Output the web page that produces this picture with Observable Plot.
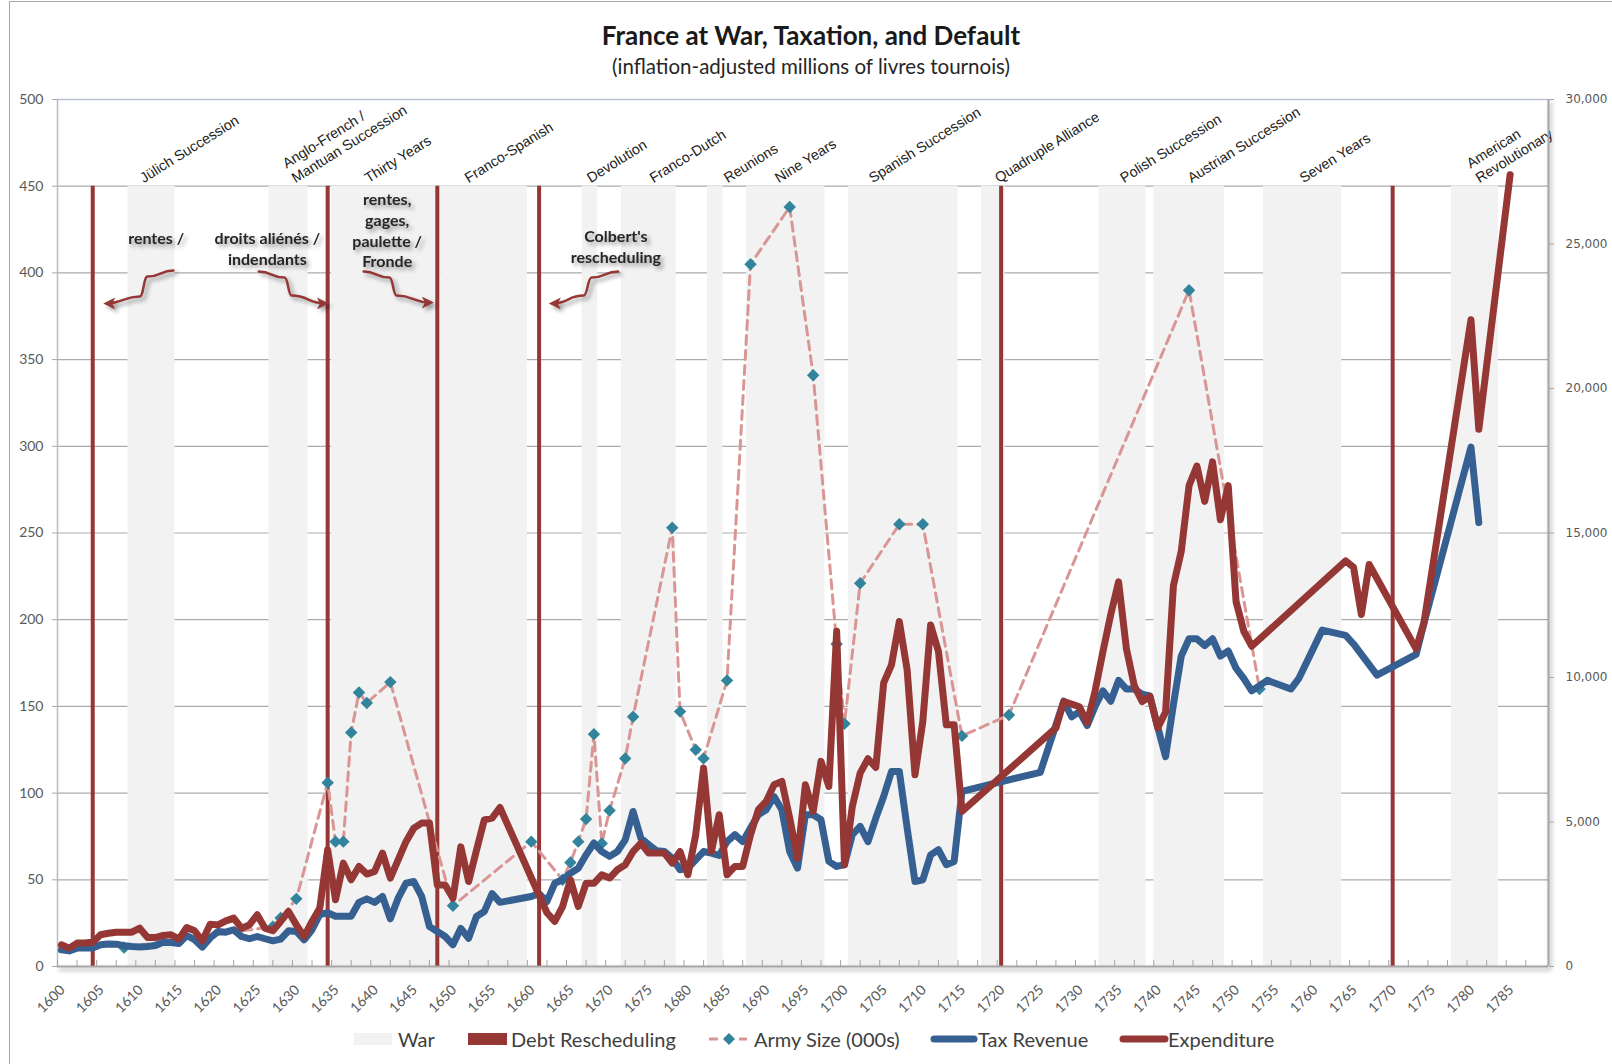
<!DOCTYPE html>
<html>
<head>
<meta charset="utf-8">
<script src="https://cdn.jsdelivr.net/npm/d3@7"></script>
<script src="https://cdn.jsdelivr.net/npm/@observablehq/plot@0.6"></script>
<style>
  html, body { margin: 0; padding: 0; background: #fff; }
  body { width: 1612px; height: 1064px; overflow: hidden; position: relative; font-family: Lato, "Open Sans", sans-serif; }
  #frame { position: absolute; left: 9px; top: 1px; width: 1640px; height: 1100px; border: 1px solid #a6a6a6; pointer-events: none; }
  #title { position: absolute; left: 811px; top: 19px; transform: translateX(-50%); white-space: nowrap; font-weight: 700; font-size: 26px; line-height: 32px; color: #1a1a1a; }
  #subtitle { position: absolute; left: 811px; top: 53px; transform: translateX(-50%); white-space: nowrap; font-size: 20.5px; line-height: 26px; color: #262626; }
  #chart { position: absolute; left: 0; top: 90px; }
  #legend { position: absolute; left: 0; top: 1020px; width: 1612px; height: 44px; }
  .sw { position: absolute; top: 0; }
  .lt { position: absolute; top: 7px; font-size: 20px; color: #404040; white-space: nowrap; line-height: 24px; }
</style>
</head>
<body>
<div id="frame"></div>
<div id="title">France at War, Taxation, and Default</div>
<div id="subtitle">(inflation-adjusted millions of livres tournois)</div>
<div id="chart"></div>
<div id="legend">
  <svg class="sw" style="left:354px" width="40" height="44"><rect x="0" y="13" width="38" height="12" fill="#f2f2f2"/></svg>
  <span class="lt" style="left:398px">War</span>
  <svg class="sw" style="left:468px" width="42" height="44"><rect x="0" y="13" width="39" height="12" fill="#953735"/></svg>
  <span class="lt" style="left:511px">Debt Rescheduling</span>
  <svg class="sw" style="left:708px" width="42" height="44"><line x1="1" y1="19" x2="39" y2="19" stroke="#d99694" stroke-width="3" stroke-dasharray="9,6"/><path d="M21,13 L27,19 L21,25 L15,19 Z" fill="#31849b"/></svg>
  <span class="lt" style="left:754px">Army Size (000s)</span>
  <svg class="sw" style="left:930px" width="50" height="44"><line x1="4" y1="19" x2="44" y2="19" stroke="#376092" stroke-width="7" stroke-linecap="round"/></svg>
  <span class="lt" style="left:978px">Tax Revenue</span>
  <svg class="sw" style="left:1119px" width="50" height="44"><line x1="4" y1="19" x2="46" y2="19" stroke="#953735" stroke-width="7" stroke-linecap="round"/></svg>
  <span class="lt" style="left:1168px">Expenditure</span>
</div>
<script>
// ---------------- DATA ----------------
const taxYears = [1600,1601,1602,1603,1604,1605,1606,1607,1608,1609,1610,1611,1612,1613,1614,1615,1616,1617,1618,1619,
  1620,1621,1622,1623,1624,1625,1626,1627,1628,1629,1630,1631,1632,1633,1634,1635,1636,1637,1638,1639,
  1640,1641,1642,1643,1644,1645,1646,1647,1648,1649,1650,1651,1652,1653,1654,1655,1656,1660,1661,1662,
  1663,1664,1665,1666,1667,1668,1669,1670,1671,1672,1673,1674,1675,1676,1677,1678,1679,1680,1681,1682,
  1683,1684,1685,1686,1687,1688,1689,1690,1691,1692,1693,1694,1695,1696,1697,1698,1699,1700,1701,1702,
  1703,1704,1705,1706,1707,1708,1709,1710,1711,1712,1713,1714,1715,1725,1728,1729,1730,1731,1732,1733,
  1734,1735,1736,1737,1738,1739,1740,1741,1742,1743,1744,1745,1746,1747,1748,1749,1750,1751,1752,1753,
  1754,1757,1758,1761,1764,1765,1768,1773,1774,1780,1781];
const taxValues = [9.6,9.0,10.6,10.6,10.6,12.5,13,12.9,12,11.5,11.3,11.5,12.1,14,13.8,13.3,17.9,15.4,11.2,16.5,
  20.2,19.8,21.2,17.3,16,17.3,16,14.8,15.8,20.6,20.2,15.4,21.2,30,31,29,29,29,37,39,
  37,40.4,27.5,39.4,48,49,40.4,23,20.2,17.3,12.5,22,16.3,28.8,31.7,42,37,40.4,42,37.5,
  48,50,53.8,56.7,64.4,71.2,66.3,63.5,66.3,73,89.4,74,70.2,66.7,66.3,62.5,55.8,56.7,61.5,66.3,
  65.4,64,72,76,72,79.8,87.5,90.4,98,90.4,66.3,56.7,87.5,87.5,84.6,60.6,57.7,58.7,76,80.8,
  72,85.6,98,112.5,112.5,79.8,49,50,64.4,67.3,58.7,60.6,101,112,153,144,147,139,150,159,
  153,165,160,160,157,156,138,121,151,179,189,189,185,189,179,182,172,166,159,162,
  165,160,166,194,191,186,168,180,198,299.5,256];

const expYears = [1600,1601,1602,1603,1604,1605,1606,1607,1608,1609,1610,1611,1612,1613,1614,1615,1616,1617,1618,1619,
  1620,1621,1622,1623,1624,1625,1626,1627,1628,1629,1630,1631,1632,1633,1634,1635,1636,1637,1638,1639,
  1640,1641,1642,1643,1644,1645,1646,1647,1648,1649,1650,1651,1652,1653,1654,1655,1656,1662,1663,1664,
  1665,1666,1667,1668,1669,1670,1671,1672,1673,1674,1675,1676,1677,1678,1679,1680,1681,1682,1683,1684,
  1685,1686,1687,1688,1689,1690,1691,1692,1693,1694,1695,1696,1697,1698,1699,1700,1701,1702,1703,1704,
  1705,1706,1707,1708,1709,1710,1711,1712,1713,1714,1715,1727,1728,1729,1730,1731,1732,1733,1734,1735,
  1736,1737,1738,1739,1740,1741,1742,1743,1744,1745,1746,1747,1748,1749,1750,1751,1752,1764,1765,1766,
  1767,1773,1774,1780,1781,1785];
const expValues = [12.5,10.6,13.5,13.5,14,18.3,19.2,19.8,19.8,19.8,22.1,16.7,16.7,17.9,18.3,15.8,22.5,20.6,14.8,24.4,
  24,26.3,27.9,22.1,24,29.8,22.1,20.6,26,31.7,24,17.3,26,33.7,67.3,38.5,59.6,50,57.7,53.3,
  54.8,65.4,51,61.5,72,79.8,82.7,82.7,47,47,39.4,69,49,67,84.6,85.6,91.7,31,26,34.6,
  50,34.6,48,48,52.9,51,55.8,58.7,66.3,71.2,65.4,65.4,65.4,59.6,66.3,52.9,76,114.4,66.3,87.5,
  52.9,57.7,57.7,76,90.4,95.2,104.8,106.7,85.6,62.5,104.8,89.4,118.3,103.8,193.3,58.7,92.3,111.5,119.8,114.8,
  163.5,174,199,171,110.6,141.3,197,181.7,139.4,139.4,89.4,137.6,152.8,151.3,149.8,140.6,158.9,181.6,203,221.8,
  183.2,162,152.8,155.8,137.6,146.7,219.6,239.4,277.3,288.6,268.2,291,257.6,277.3,210.5,193.2,184.7,233.9,230.3,203,
  231.8,183.2,198.4,373,309.8,456.6];

const armyYears = [1608,1627,1628,1630,1634,1635,1636,1637,1638,1639,1642,1650,1660,1664,1665,1666,1667,1668,1669,1670,
  1672,1673,1678,1679,1681,1682,1685,1688,1693,1696,1699,1700,1702,1707,1710,1715,1721,1744,1753];
const armyValues = [11,23,28,39,106,72,72,135,158,152,164,35,72,50,60,72,85,134,71,90,
  120,144,253,147,125,120,165,405,438,341,186,140,221,255,255,133,145,390,160];

const reschedYears = [1604,1634,1648,1661,1720,1770];
const bandTop = 450;

const wars = ["Jülich Succession","Anglo-French /\nMantuan Succession","Thirty Years","Franco-Spanish","Devolution",
  "Franco-Dutch","Reunions","Nine Years","Spanish Succession","Quadruple Alliance","Polish Succession",
  "Austrian Succession","Seven Years","American\nRevolutionary"];
const warStart = [1609,1627,1635,1649,1667,1672,1683,1688,1701,1718,1733,1740,1754,1778];
const warEnd   = [1614,1631,1648,1659,1668,1678,1684,1697,1714,1720,1738,1748,1763,1783];
const warLabelYear = [1611.0,1630.4,1639.7,1652.5,1668.1,1676.1,1685.6,1692.1,1704.1,1720.2,1736.2,1744.8,1759.1,1781.6];

const annotLabels = ["rentes /","droits aliénés /\nindendants","rentes,\ngages,\npaulette /\nFronde","Colbert's\nrescheduling"];
const annotYear  = [1612.6,1626.8,1642.1,1671.3];
const annotValue = [420.5,414.5,425,415.5];
// callout arrow waypoints (year, value), one list per callout
const arrowYears  = [[1614.8,1611.5,1610.5,1606.3],[1625.7,1629.0,1629.9,1634.2],[1639.1,1642.4,1643.3,1647.6],[1671.6,1668.2,1667.2,1663.2]];
const arrowValues = [[401.4,397.9,386.4,382.4],[400.8,397.3,386.9,382.4],[400.8,397.3,386.9,382.9],[400.8,397.3,386.9,382.4]];

const leftTicks = [0,50,100,150,200,250,300,350,400,450,500];
const rightTicks = [0,5000,10000,15000,20000,25000,30000];
const rightPerLeft = 60;
const xTicks = [1600,1605,1610,1615,1620,1625,1630,1635,1640,1645,1650,1655,1660,1665,1670,1675,1680,1685,1690,1695,
  1700,1705,1710,1715,1720,1725,1730,1735,1740,1745,1750,1755,1760,1765,1770,1775,1780,1785];

// ---------------- TABLES ----------------
const tax = taxYears.map((year, i) => ({year, value: taxValues[i]}));
const exp = expYears.map((year, i) => ({year, value: expValues[i]}));
const army = armyYears.map((year, i) => ({year, value: armyValues[i]}));
const resched = reschedYears.map(year => ({year}));
const warTable = wars.map((name, i) => ({name, start: warStart[i], end: warEnd[i], labelYear: warLabelYear[i]}));
const annots = annotLabels.map((label, i) => ({label, year: annotYear[i], value: annotValue[i]}));
const arrows = arrowYears.flatMap((ys, i) => ys.map((year, j) => ({id: i, year, value: arrowValues[i][j]})));
const minorTicks = xTicks.flatMap(t => [t, t + 2.5]);
const mid = d => d.year + 0.5;   // category centre

const RED = "#953735", BLUE = "#376092";
const fmt = d3.format(",");

const plot = Plot.plot({
  width: 1612,
  height: 930,
  marginLeft: 57,
  marginRight: 64,
  marginTop: 9,
  marginBottom: 54,
  x: {type: "linear", domain: [1600, 1790.4], label: null},
  y: {domain: [0, 500], label: null},
  style: {fontFamily: "Lato, sans-serif", background: "transparent", overflow: "visible"},
  marks: [
    Plot.ruleY(leftTicks.filter(v => v > 0 && v < 500), {stroke: "#ababab", strokeWidth: 1.2}),
    Plot.ruleY([500], {stroke: "#bac4d6", strokeWidth: 1.5}),
    Plot.ruleX([1600], {stroke: "#b4bccb", strokeWidth: 1.5}),
    Plot.rect(warTable, {x1: "start", x2: d => d.end + 1, y1: 0, y2: bandTop, fill: "#f2f2f2"}),
    Plot.ruleX(resched, {x: mid, y1: 0, y2: bandTop, stroke: RED, strokeWidth: 4}),
    Plot.text(warTable, {x: "labelYear", y: bandTop, text: "name", rotate: -32, textAnchor: "start", lineAnchor: "bottom",
      dy: -3, fontFamily: "Liberation Sans, Arial, sans-serif", fontSize: 14.3, fill: "#222", lineHeight: 1.2}),
    Plot.line(army, {x: mid, y: "value", stroke: "#d99694", strokeWidth: 3, strokeDasharray: "9,6"}),
    Plot.dot(army, {x: mid, y: "value", symbol: "diamond2", r: 5.6, fill: "#31849b", stroke: "none"}),
    Plot.line(tax, {x: mid, y: "value", stroke: BLUE, strokeWidth: 7, strokeLinejoin: "round", strokeLinecap: "round"}),
    Plot.line(exp, {x: mid, y: "value", stroke: RED, strokeWidth: 7, strokeLinejoin: "round", strokeLinecap: "round"}),
    Plot.line(arrows, {x: "year", y: "value", z: "id", curve: "bump-x", stroke: RED, strokeWidth: 2.5,
      ariaLabel: () => "callout-arrow"}),
    Plot.text(annots, {x: "year", y: "value", text: "label", fontWeight: "bold", fontSize: 16, lineHeight: 1.3,
      fill: "#262626", fontFamily: "Lato, sans-serif", ariaLabel: () => "callout"}),
    // x tick marks
    Plot.ruleX(minorTicks, {y1: 0, y2: 3.5, stroke: "#a6a6a6"}),
    // frame bottom and right with shadow
    Plot.ruleY([0], {stroke: "#a6a6a6", strokeWidth: 2, ariaLabel: () => "shadowframe"}),
    Plot.ruleX([1790.4], {stroke: "#a6a6a6", strokeWidth: 2, ariaLabel: () => "shadowframe"}),
    Plot.axisY(leftTicks, {anchor: "left", label: null, tickSize: 5, tickPadding: 9, fontSize: 14, fill: "#595959", stroke: "#a6a6a6"}),
    Plot.axisY(rightTicks.map(v => v / rightPerLeft), {anchor: "right", label: null, tickSize: 5, tickPadding: 12,
      tickFormat: v => fmt(Math.round(v * rightPerLeft)), fontFamily: "DejaVu Sans, sans-serif", fontSize: 12,
      fill: "#595959", stroke: "#a6a6a6"}),
    Plot.axisX(xTicks, {anchor: "bottom", label: null, tickSize: 0, tickPadding: 21, tickRotate: -45, fontSize: 14,
      fill: "#595959", dx: 5, tickFormat: d => String(d)})
  ]
});
document.getElementById("chart").appendChild(plot);

// arrowheads and soft shadows (styling only)
const svg = d3.select(plot);
const defs = svg.insert("defs", ":first-child");
defs.append("marker").attr("id", "callout-head").attr("viewBox", "0 0 10 10").attr("refX", 7).attr("refY", 5)
  .attr("markerUnits", "userSpaceOnUse").attr("markerWidth", 13).attr("markerHeight", 12).attr("orient", "auto")
  .append("path").attr("d", "M0,0 L10,5 L0,10 L2.5,5 Z").attr("fill", RED);
svg.selectAll('[aria-label="callout-arrow"]').attr("marker-end", "url(#callout-head)")
  .style("filter", "drop-shadow(3px 3px 2px rgba(0,0,0,0.4))");
svg.selectAll('[aria-label="callout"]').style("filter", "drop-shadow(3px 3px 2px rgba(0,0,0,0.4))");
svg.selectAll('[aria-label="shadowframe"]').style("filter", "drop-shadow(2px 3px 2px rgba(0,0,0,0.35))");
</script>
</body>
</html>
